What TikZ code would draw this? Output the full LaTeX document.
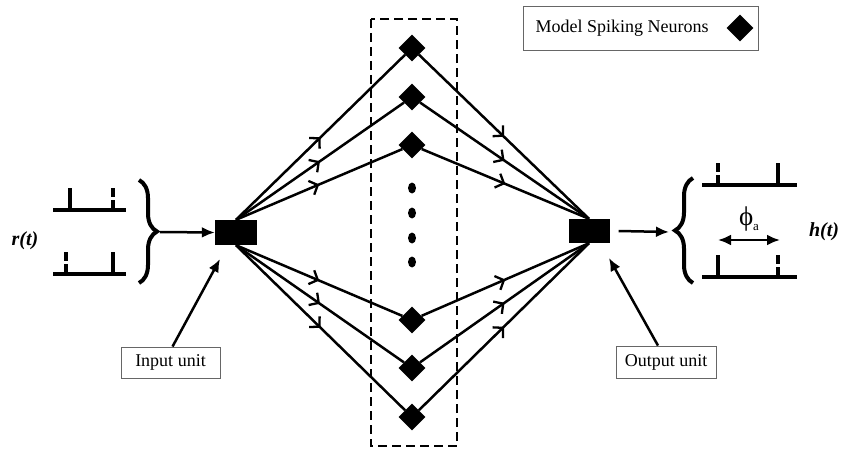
\documentclass[tikz,border=0pt]{standalone}
\usepackage{fontspec}
\setmainfont{Liberation Serif}
\usetikzlibrary{arrows.meta,decorations.markings,decorations.pathreplacing,shapes.geometric,calc}
\begin{document}
\begin{tikzpicture}[x=1pt,y=-1pt,
  conn/.style={line width=2.5pt, postaction={decorate},
    decoration={markings, mark=at position 0.5 with {\arrow{Straight Barb[length=7pt,width=15pt,line width=2.3pt]}}}},
  ptr/.style={line width=2.5pt, -{Latex[length=13pt,width=11pt]}},
  dblptr/.style={line width=2.5pt, {Latex[length=13pt,width=11pt]}-{Latex[length=13pt,width=11pt]}},
  unitbox/.style={rectangle, fill=black, inner sep=0pt},
  neuron/.style={diamond, fill=black, inner sep=0pt, minimum width=27pt, minimum height=27pt},
  dotnode/.style={ellipse, fill=black, inner sep=0pt, minimum width=8pt, minimum height=11pt},
  labelbox/.style={rectangle, draw=black!60, line width=0.8pt, inner sep=0pt, font=\fontsize{18}{20}\selectfont},
  train/.style={line width=4.5pt},
  spike/.style={line width=4pt},
  dspike/.style={line width=4pt, dash pattern=on 9pt off 3pt},
  curly/.style={line width=4pt, decorate, decoration={brace, amplitude=18pt}},
  bigit/.style={font=\fontsize{20}{22}\selectfont\bfseries\itshape}
]
\useasboundingbox (0,0) rectangle (841,452);

% dashed column
\draw[line width=2.4pt, dash pattern=on 9pt off 5pt] (371,19) rectangle (457,446);

% units
\node[unitbox, minimum width=42pt, minimum height=25pt] (in) at (236,232.5) {};
\node[unitbox, minimum width=41pt, minimum height=24pt] (out) at (589,231) {};

% neurons
\node[neuron] (n1) at (412,48) {};
\node[neuron] (n2) at (412,97) {};
\node[neuron] (n3) at (412,145) {};
\node[neuron] (n4) at (412,320) {};
\node[neuron] (n5) at (412,368) {};
\node[neuron] (n6) at (412,417) {};

\node[dotnode] (d1) at (412,188) {};
\node[dotnode] (d2) at (412,213) {};
\node[dotnode] (d3) at (412,238) {};
\node[dotnode] (d4) at (412,262) {};

% connections
\foreach \n in {n1,n2,n3} {
  \draw[conn] (in.north) -- (\n);
  \draw[conn] (\n) -- (out.north);
}
\foreach \n in {n4,n5,n6} {
  \draw[conn] (in.south) -- (\n);
  \draw[conn] (\n) -- (out.south);
}

% input spike trains
\draw[train] (53,210) -- (126,210);
\draw[spike] (70,188) -- (70,210);
\draw[dspike] (113,188) -- (113,210);
\draw[train] (53,274) -- (126,274);
\draw[dspike] (66,252) -- (66,274);
\draw[spike] (113,252) -- (113,274);

\draw[curly] (139,180) -- (139,283);
\coordinate (lb) at (160,232);
\draw[ptr] (lb) -- (in.west);

\node[bigit] (rt) at (25,241) {r(t)};

% output spike trains
\draw[train] (702,185) -- (797,185);
\draw[dspike] (718,163) -- (718,185);
\draw[spike] (778,163) -- (778,185);
\draw[train] (702,277) -- (797,277);
\draw[spike] (718,255) -- (718,277);
\draw[dspike] (778,255) -- (778,277);

\draw[curly] (693,283) -- (693,178);
\coordinate (rb) at (669,232);
\draw[ptr] ($(out.east)+(9,0)$) -- (rb);

\coordinate (pa) at (718,240);
\coordinate (pb) at (780,240);
\draw[dblptr] (pa) -- (pb);
\node[font=\fontsize{27}{28}\selectfont] (phi) at (749,219) {ϕ\raisebox{-5pt}{\fontsize{13}{13}\selectfont a}};

\node[bigit] (ht) at (824,232) {h(t)};

% labels
\node[labelbox, minimum width=99pt, minimum height=31pt] (inlabel) at (170.5,362.5) {Input unit};
\node[labelbox, minimum width=100pt, minimum height=32pt] (outlabel) at (666,362) {Output unit};
\coordinate (inpt) at (220,259);
\coordinate (outpt) at (609,258);
\draw[ptr] ($(inlabel.north)+(2,0)$) -- (inpt);
\draw[ptr] ($(outlabel.north)+(-8,0)$) -- (outpt);

% legend
\node[labelbox, minimum width=235pt, minimum height=44pt] (legend) at (640.5,28) {};
\node[font=\fontsize{18}{20}\selectfont] (legtext) at (622,28) {Model Spiking Neurons};
\node[neuron] (legdiamond) at (740,28) {};

\end{tikzpicture}
\end{document}
